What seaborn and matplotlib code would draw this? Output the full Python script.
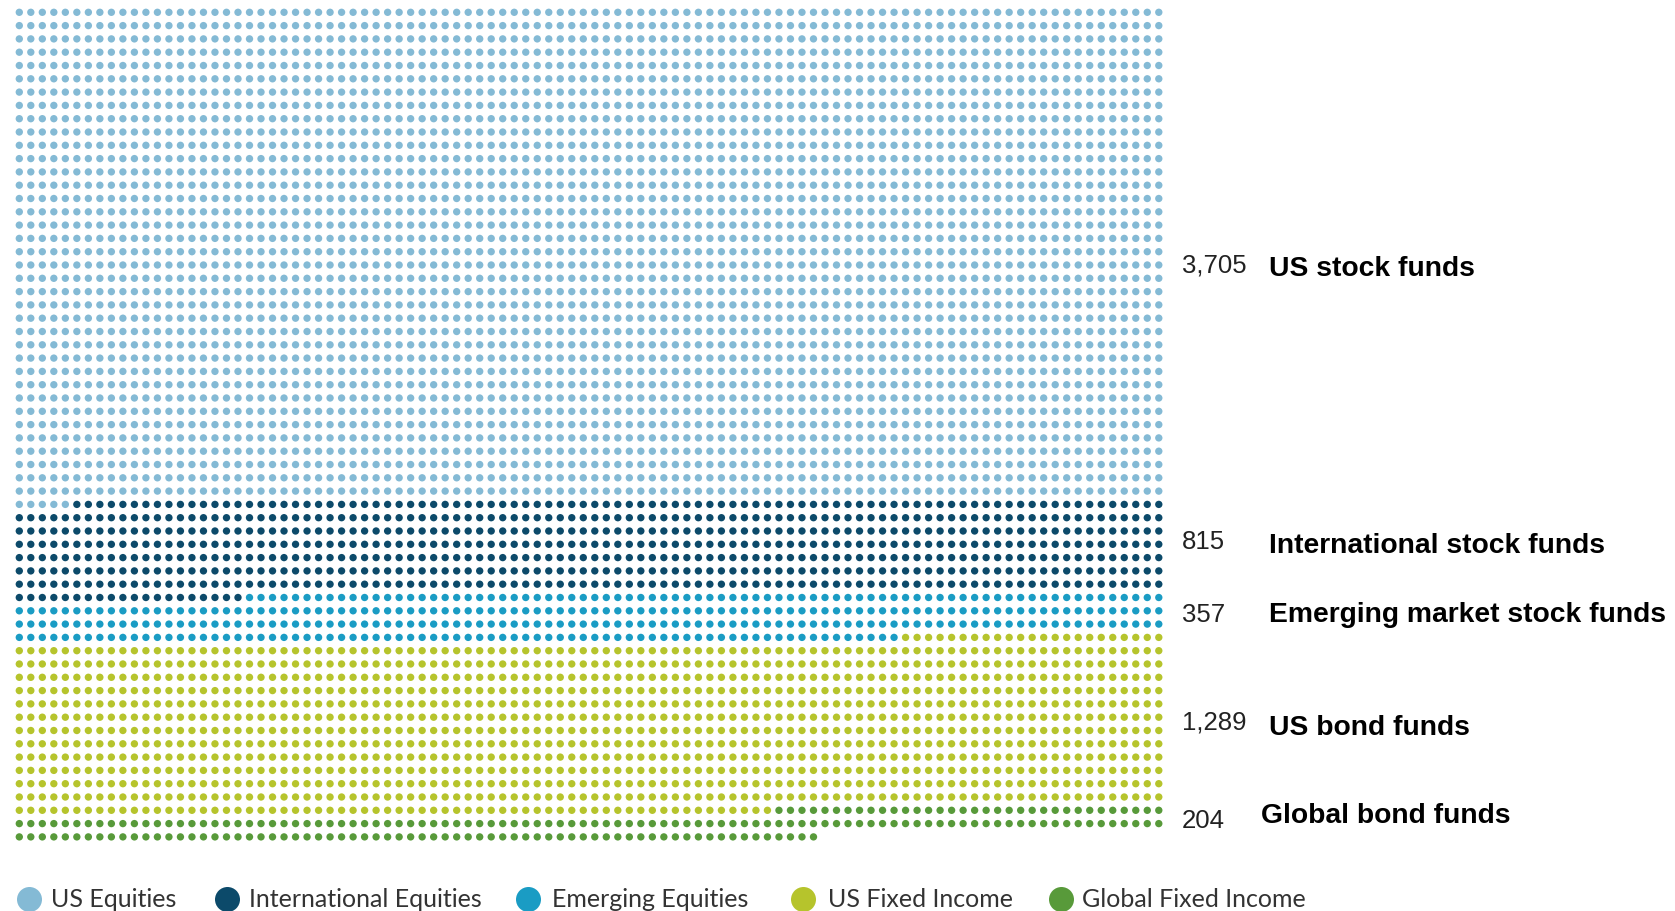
import numpy as np
import pandas as pd
import seaborn as sns
import matplotlib
matplotlib.use("Agg")
import matplotlib.pyplot as plt

# ---- data ----
categories = ["US Equities", "International Equities", "Emerging Equities",
              "US Fixed Income", "Global Fixed Income"]
# dots as drawn in the picture (one dot per fund)
dot_counts = [3705, 715, 357, 1289, 204]
value_labels = ["3,705", "815", "357", "1,289", "204"]
fund_labels = ["US stock funds", "International stock funds",
               "Emerging market stock funds", "US bond funds", "Global bond funds"]
colors = ["#84bad5", "#0c4a6a", "#1a9cc4", "#b6c42c", "#589a3a"]

N_COLS = 100

# ---- build waffle table ----
cat_col = np.repeat(categories, dot_counts)
idx = np.arange(len(cat_col))
df = pd.DataFrame({"category": cat_col, "col": idx % N_COLS, "row": idx // N_COLS})
n_rows = int(df["row"].max()) + 1

W, H = 1675, 912
fig = plt.figure(figsize=(W / 100, H / 100), dpi=100)
sns.set_style("white")

# axes placement in pixels
dx, dy = 11.51, 13.30
left_px = 19.3 - dx / 2
top_px = 13.3 - dy / 2
ax_w = N_COLS * dx
ax_h = n_rows * dy
ax = fig.add_axes([left_px / W, 1 - (top_px + ax_h) / H, ax_w / W, ax_h / H])

sns.scatterplot(data=df, x="col", y="row", hue="category", hue_order=categories,
                palette=colors, s=28, linewidth=0, legend=False, ax=ax)
ax.set_xlim(-0.5, N_COLS - 0.5)
ax.set_ylim(n_rows - 0.5, -0.5)
ax.axis("off")

# ---- right-hand labels ----
num_y_px = [266, 542, 615, 723, 821]
lab_y_px = [269, 546, 615, 728, 816]
label_x_px = [1269, 1269, 1269, 1269, 1261]
for v, lab, ny, ly, lx in zip(value_labels, fund_labels, num_y_px, lab_y_px, label_x_px):
    fig.text(1182 / W, 1 - ny / H, v, fontsize=18.5, color="#222222",
             family="Liberation Sans", va="center", ha="left")
    fig.text(lx / W, 1 - ly / H, lab, fontsize=20.3, color="black",
             family="Liberation Sans", fontweight="bold", va="center", ha="left")

# ---- legend ----
leg_y = 1 - 900 / H
marker_x = [29, 227, 528, 803, 1061]
text_x = [51, 249, 552, 828, 1082]
for c, lab, mx, tx in zip(colors, categories, marker_x, text_x):
    fig.add_artist(plt.Line2D([mx / W], [leg_y], marker="o", markersize=18,
                              color=c, markeredgewidth=0, linestyle="none",
                              transform=fig.transFigure))
    fig.text(tx / W, leg_y, lab, fontsize=18, color="#333333", family="Lato",
             va="center", ha="left")

fig.savefig("out.png", dpi=100)
